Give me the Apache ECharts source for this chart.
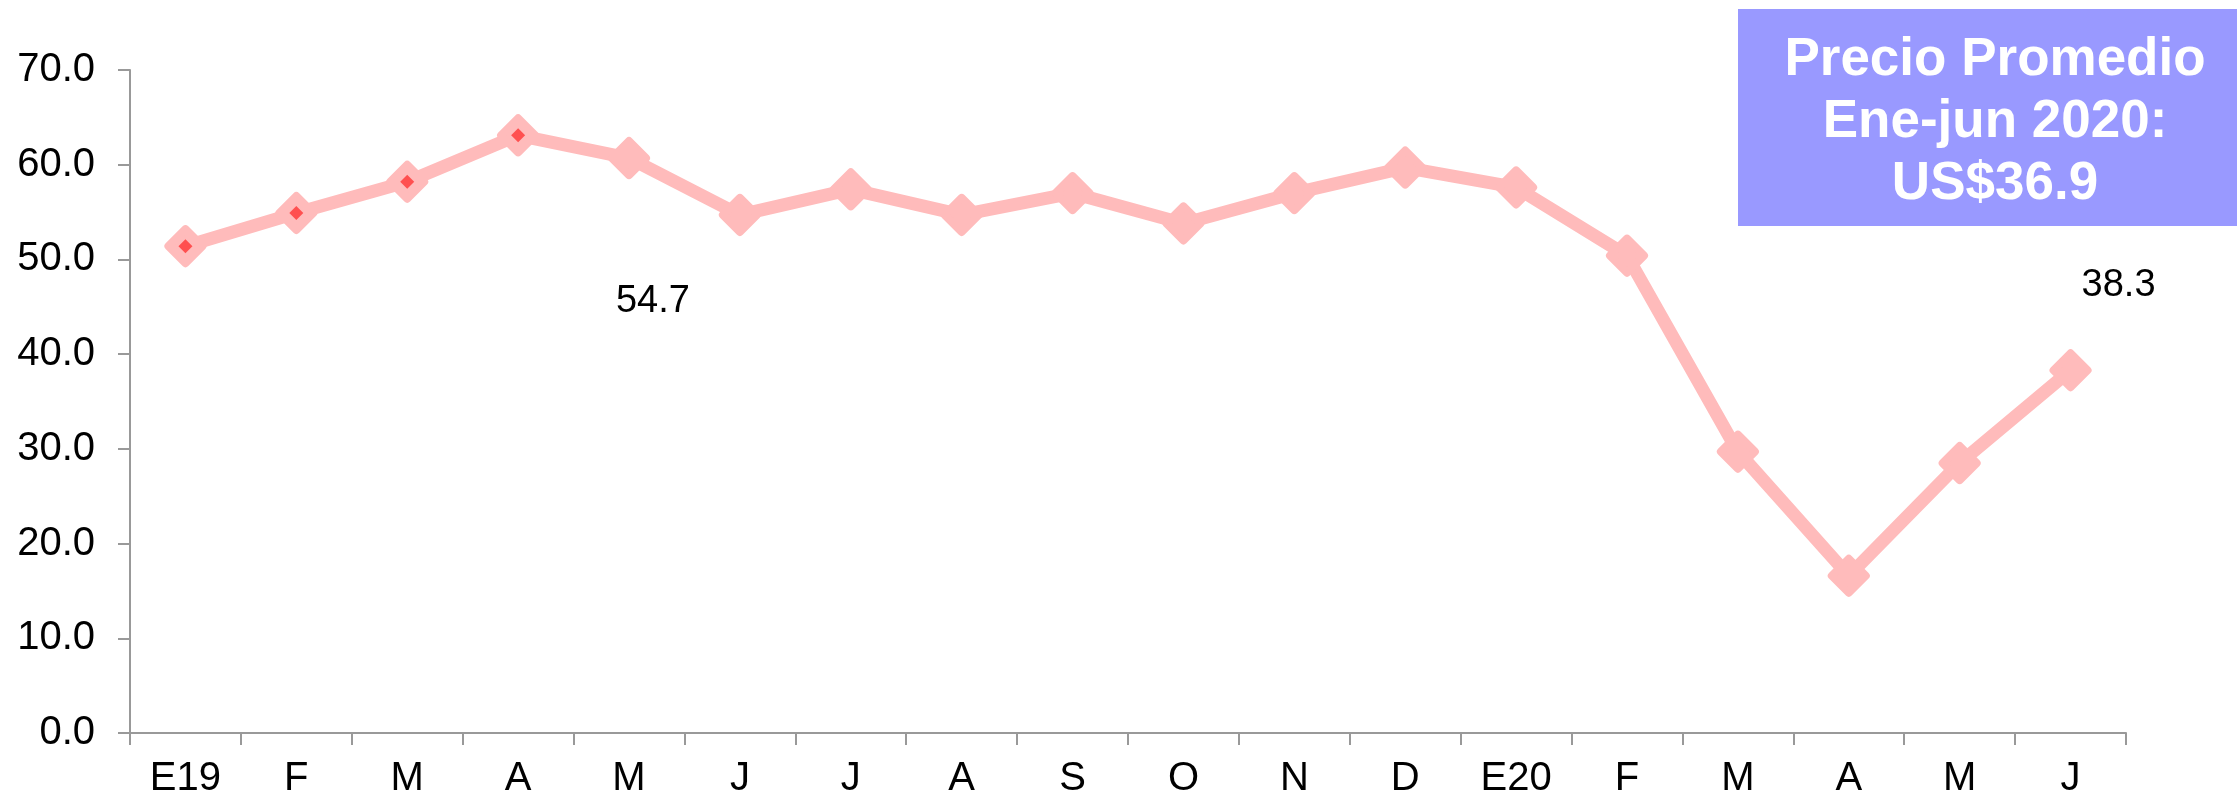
<!DOCTYPE html>
<html lang="es">
<head>
    <meta charset="UTF-8">
    <title>Precio Promedio</title>
    <script src="https://cdn.jsdelivr.net/npm/echarts@6/dist/echarts.min.js"></script>
    <style>
        html, body { margin: 0; padding: 0; background: #fff; }
        #chart { width: 2237px; height: 798px; }
    </style>
</head>
<body>
    <div id="chart"></div>
    <script>
        // datos
        const meses = ['E19', 'F', 'M', 'A', 'M', 'J', 'J', 'A', 'S', 'O', 'N', 'D', 'E20', 'F', 'M', 'A', 'M', 'J'];
        const precios = [51.4, 54.9, 58.2, 63.1, 60.7, 54.7, 57.4, 54.7, 57.0, 53.8, 57.0, 59.7, 57.6, 50.4, 29.7, 16.6, 28.5, 38.3];
        const puntosMarcados = [51.4, 54.9, 58.2, 63.1];
        const cuadroTexto = ['Precio Promedio', 'Ene-jun 2020:', 'US$36.9'];

        const rosa = '#FFBBBB';
        const fuente = '"Liberation Sans", Arial, sans-serif';

        // etiquetas de datos (solo J19 y J20)
        const etiquetas = { 5: [-87, 87], 17: [48, -85] };

        const serieDatos = precios.map((v, i) => {
            if (etiquetas[i]) {
                return {
                    value: v,
                    label: {
                        show: true,
                        position: 'inside',
                        offset: etiquetas[i],
                        formatter: (p) => p.value.toFixed(1),
                        color: '#000',
                        fontSize: 38,
                        fontFamily: fuente
                    }
                };
            }
            return v;
        });

        const chart = echarts.init(document.getElementById('chart'));

        chart.setOption({
            animation: false,
            grid: { left: 130, right: 111, top: 70, bottom: 65, containLabel: false, outerBoundsMode: 'none' },
            xAxis: {
                type: 'category',
                data: meses,
                axisLine: { lineStyle: { color: '#999', width: 2 } },
                axisTick: { show: true, interval: 0, length: 12, lineStyle: { color: '#999', width: 2 } },
                axisLabel: { interval: 0, margin: 26, color: '#000', fontSize: 40, fontFamily: fuente }
            },
            yAxis: {
                type: 'value',
                min: 0,
                max: 70,
                interval: 10,
                axisLine: { show: true, lineStyle: { color: '#999', width: 2 } },
                axisTick: { show: true, length: 12, lineStyle: { color: '#999', width: 2 } },
                splitLine: { show: false },
                axisLabel: {
                    margin: 35,
                    color: '#000',
                    fontSize: 40,
                    fontFamily: fuente,
                    formatter: (v) => v.toFixed(1)
                }
            },
            series: [
                {
                    type: 'line',
                    data: serieDatos,
                    symbol: 'diamond',
                    symbolSize: 34,
                    lineStyle: { color: rosa, width: 13, join: 'round' },
                    itemStyle: { color: rosa, borderColor: rosa, borderWidth: 8, borderJoin: 'round' },
                    z: 2
                },
                {
                    type: 'line',
                    data: puntosMarcados,
                    symbol: 'diamond',
                    symbolSize: 14,
                    lineStyle: { width: 0, opacity: 0 },
                    itemStyle: { color: '#FF5050' },
                    z: 3
                }
            ],
            graphic: [
                {
                    type: 'rect',
                    shape: { x: 1738, y: 9, width: 520, height: 217 },
                    style: { fill: '#9999FF' },
                    z: 10
                },
                {
                    type: 'text',
                    x: 1995,
                    y: 122,
                    style: {
                        text: cuadroTexto.join('\n'),
                        fill: '#fff',
                        font: 'bold 53px ' + fuente,
                        lineHeight: 62,
                        align: 'center',
                        verticalAlign: 'middle'
                    },
                    z: 11
                }
            ]
        });
    </script>
</body>
</html>
